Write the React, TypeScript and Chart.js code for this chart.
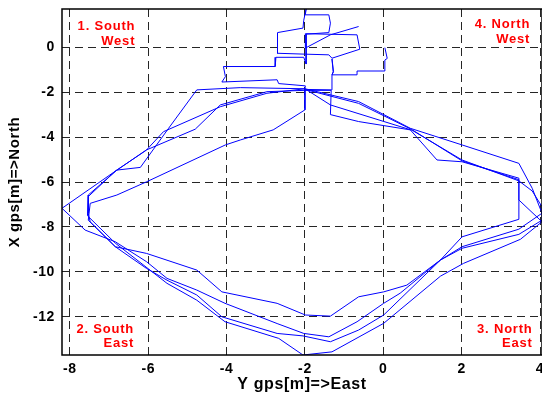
import React, { useEffect, useRef } from "react";
import { Chart, registerables } from "chart.js";

Chart.register(...registerables);

type Pt = [number, number];

// GPS track in metres: Y gps (east) on the horizontal axis, X gps (north) on the vertical one.
const startTangle: Pt[] = [
  [-0.63, 0.92], [-1.35, 0.55], [-1.99, -0.04], [-1.99, 0.6], [-0.67, 0.55],
  [-0.6, -0.09], [-1.31, -0.49], [-1.39, -0.34], [-1.99, -0.31], [-2.71, -0.27],
  [-2.7, 0.65], [-2.05, 0.85], [-2.03, 1.2], [-1.97, 1.7], [-1.99, 1.44],
  [-1.39, 1.44], [-1.35, 1.07], [-1.39, 0.65], [-1.97, 0.58], [-1.97, -0.75],
  [-2.03, -0.45], [-2.74, -0.45], [-2.76, -0.86], [-4.08, -0.86], [-4.03, -1.31],
  [-4.12, -1.55], [-2.71, -1.45], [-2.67, -1.62], [-1.99, -1.72], [-2.0, -1.85],
];

const lapOne: Pt[] = [
  [-3.65, -1.8], [-4.76, -1.9], [-5.48, -3.61], [-6.2, -5.35], [-6.8, -5.47],
  [-7.53, -6.58], [-7.53, -7.4], [-7.48, -7.77], [-6.84, -8.88], [-6.04, -9.18],
  [-4.76, -9.92], [-4.12, -10.89], [-2.71, -11.4], [-1.99, -11.92], [-1.35, -11.97],
  [-0.63, -11.11], [0.01, -10.89], [0.6, -10.59], [1.46, -9.47], [2.01, -8.44],
  [3.46, -7.66], [3.46, -6.73], [3.46, -5.83], [2.01, -5.1], [1.37, -5.02],
  [0.69, -3.68], [-0.63, -3.31], [-1.35, -3.0], [-1.33, -1.92], [-2.0, -1.92],
];

const lapTwo: Pt[] = [
  [-2.97, -1.98], [-4.16, -2.57], [-4.8, -3.65], [-6.04, -4.57], [-6.8, -5.47],
  [-8.2, -7.17], [-7.61, -8.14], [-6.84, -8.66], [-6.04, -9.55], [-5.52, -10.29],
  [-4.76, -10.81], [-4.04, -11.4], [-2.71, -12.3], [-2.03, -12.74], [-1.39, -12.89],
  [-0.67, -12.22], [0.01, -11.4], [0.43, -10.95], [1.46, -9.47], [2.01, -8.88],
  [3.46, -8.1], [4.05, -7.39], [3.8, -6.28], [3.46, -5.17], [2.01, -4.35],
  [0.69, -3.61], [-0.63, -2.42], [-2.0, -1.85],
];

const lapThree: Pt[] = [
  [-2.0, -2.79], [-2.81, -3.68], [-3.65, -4.13], [-4.03, -4.35], [-6.04, -5.99],
  [-6.8, -6.58], [-7.48, -6.95], [-7.53, -7.7], [-6.84, -8.88], [-6.04, -9.85],
  [-5.52, -10.37], [-4.76, -11.03], [-4.12, -12.0], [-2.71, -12.74], [-2.05, -12.85],
  [-1.35, -13.11], [-0.63, -12.59], [0.01, -11.92], [1.46, -9.47], [2.01, -8.95],
  [3.46, -8.33], [4.05, -7.7], [4.05, -7.1], [3.8, -6.4], [3.46, -5.95],
  [2.01, -5.02], [0.74, -3.7], [-1.35, -2.57], [-2.0, -1.85],
];

const lapFour: Pt[] = [
  [-2.97, -2.05], [-4.16, -2.65], [-5.61, -3.76], [-6.04, -4.57], [-6.84, -5.52],
  [-7.53, -6.65], [-7.55, -7.5], [-6.84, -8.72], [-5.52, -10.51], [-4.76, -11.26],
  [-4.04, -12.22], [-2.67, -12.96], [-2.05, -13.7], [-1.31, -13.56], [0.01, -12.29],
  [1.46, -10.19], [2.05, -9.62], [3.5, -8.55], [4.05, -7.77], [3.46, -6.8],
  [3.46, -5.9], [2.01, -5.06], [0.72, -3.66], [-0.63, -2.5], [-2.0, -1.88],
];

const endTangle: Pt[] = [
  [-1.33, -1.9], [-1.31, -1.23], [-1.27, -1.09], [-1.31, -0.52], [-1.28, -1.1],
  [-1.31, -1.23], [-0.67, -1.23], [-0.67, -1.06], [0.04, -1.06], [0.04, -0.57],
  [0.1, -0.5], [0.04, -0.02],
];

const eastTicks = [-8, -6, -4, -2, 0, 2, 4];
const northTicks = [-12, -10, -8, -6, -4, -2, 0];
const eastRange: [number, number] = [-8.2, 4.05];
const northRange: [number, number] = [-13.7, 1.7];

const quadrantLines: string[][] = [
  ["1. South", "West"],
  ["4. North", "West"],
  ["2. South", "East"],
  ["3. North", "East"],
];
const quadrantEast = [-6.33, 3.75, -6.36, 3.81];
const quadrantNorth = [0.92, 1.0, -12.55, -12.55];

const FONT = "'Liberation Sans', Arial, Helvetica, sans-serif";

const framePlugin = {
  id: "frame",
  beforeDraw(chart: any) {
    chart.ctx.letterSpacing = "0.6px";
  },
  afterDatasetsDraw(chart: any) {
    const { ctx, chartArea: a, scales } = chart;
    ctx.save();
    ctx.strokeStyle = "#000";
    ctx.lineWidth = 1.5;
    ctx.setLineDash([]);
    ctx.strokeRect(a.left, a.top, a.right - a.left, a.bottom - a.top);
    ctx.fillStyle = "#ff0000";
    ctx.font = `bold 13px ${FONT}`;
    ctx.letterSpacing = "0.8px";
    ctx.textAlign = "right";
    ctx.textBaseline = "middle";
    quadrantLines.forEach((lines, i) => {
      const px = scales.x.getPixelForValue(quadrantEast[i]);
      const py = scales.y.getPixelForValue(quadrantNorth[i]);
      lines.forEach((t, j) => ctx.fillText(t, px, py + j * 14.5));
    });
    ctx.restore();
  },
};

export default function App() {
  const canvasRef = useRef<HTMLCanvasElement | null>(null);

  useEffect(() => {
    const canvas = canvasRef.current;
    if (!canvas) return;
    const track = [
      ...startTangle, ...lapOne, ...lapTwo, ...lapThree, ...lapFour, ...endTangle,
    ].map(([x, y]) => ({ x, y }));
    const chart = new Chart(canvas, {
      type: "scatter",
      data: {
        datasets: [
          {
            data: track,
            showLine: true,
            borderColor: "#0000ff",
            backgroundColor: "#0000ff",
            borderWidth: 1,
            pointRadius: 0,
            tension: 0,
            fill: false,
          },
        ],
      },
      options: {
        animation: false,
        responsive: false,
        events: [],
        layout: { padding: { top: 9, right: 0, bottom: 0, left: 0 } },
        plugins: { legend: { display: false }, tooltip: { enabled: false } },
        scales: {
          x: {
            type: "linear",
            min: eastRange[0],
            max: eastRange[1],
            afterBuildTicks: (s: any) => {
              s.ticks = eastTicks.map((value) => ({ value }));
            },
            afterFit: (s: any) => {
              s.height = 40;
              s.paddingLeft = 0;
              s.paddingRight = 0;
            },
            grid: { color: "#262626", lineWidth: 1, drawTicks: false },
            border: { display: false, dash: [8, 5] },
            ticks: {
              padding: 6,
              color: "#000",
              font: { family: FONT, size: 14, weight: "bold" },
              callback: (v: any) => String(v),
            },
            title: {
              display: true,
              text: "Y gps[m]=>East",
              color: "#000",
              font: { family: FONT, size: 16, weight: "bold" },
              padding: { top: 0, bottom: 1 },
            },
          },
          y: {
            type: "linear",
            min: northRange[0],
            max: northRange[1],
            afterBuildTicks: (s: any) => {
              s.ticks = northTicks.map((value) => ({ value }));
            },
            afterFit: (s: any) => {
              s.width = 62;
              s.paddingTop = 0;
              s.paddingBottom = 0;
            },
            grid: { color: "#262626", lineWidth: 1, drawTicks: false },
            border: { display: false, dash: [8, 5] },
            ticks: {
              padding: 7,
              color: "#000",
              font: { family: FONT, size: 14, weight: "bold" },
              callback: (v: any) => String(v),
            },
            title: {
              display: true,
              text: "X gps[m]=>North",
              color: "#000",
              font: { family: FONT, size: 15, weight: "bold" },
              padding: { top: 6, bottom: 0 },
            },
          },
        },
      },
      plugins: [framePlugin],
    });
    return () => chart.destroy();
  }, []);

  return (
    <div style={{ position: "absolute", left: 0, top: 0, width: 542, height: 395, background: "#fff" }}>
      <canvas ref={canvasRef} width={542} height={395} style={{ width: 542, height: 395 }} />
    </div>
  );
}
